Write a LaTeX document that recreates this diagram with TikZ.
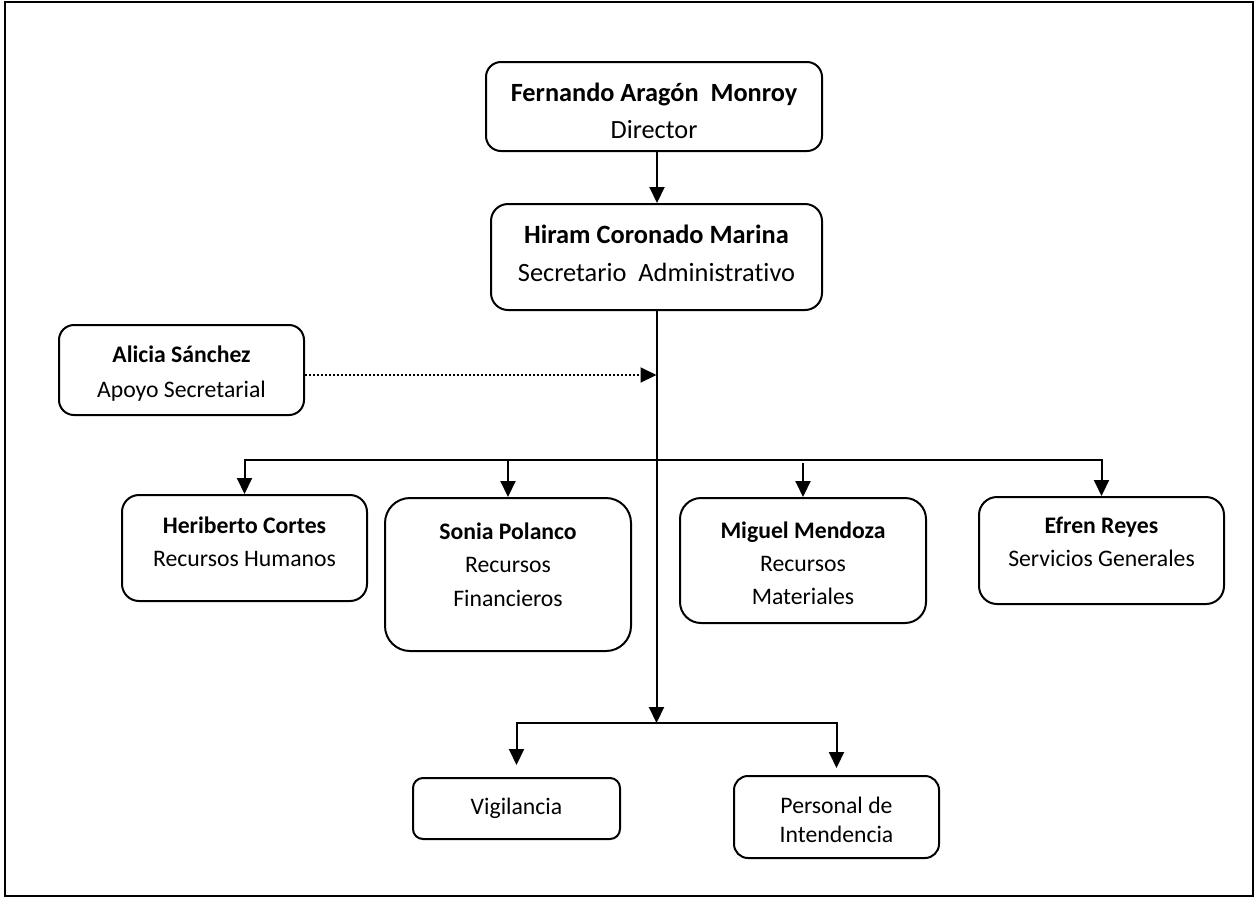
\documentclass[tikz,border=0pt]{standalone}
\usepackage{fontspec}
\setmainfont{Carlito}[Ligatures={NoCommon}]
\usetikzlibrary{arrows.meta}
\newcommand\boxlines[3]{{\fontsize{#1pt}{#2pt}\selectfont\begin{tabular}[t]{@{}c@{}}#3\end{tabular}}}
\begin{document}
\begin{tikzpicture}[x=1pt,y=-1pt,
  orgbox/.style={draw, line width=2pt, inner sep=0pt, anchor=north},
  conn/.style={line width=2pt, -{Triangle[length=16pt,width=15pt]}},
  dotconn/.style={line width=2pt, dash pattern=on 2pt off 2pt, -{Triangle[length=16pt,width=15pt]}}]
\useasboundingbox (0,0) rectangle (1255,898);
\draw[line width=2pt] (4.5,1.8) rectangle (1252.5,896);

\node[orgbox, minimum width=336pt, text height=39pt, text depth=50pt, rounded corners=15pt] (fer) at (654,61)
  {\boxlines{26.3}{37}{\textbf{Fernando Aragón~~Monroy}\\Director}};
\node[orgbox, minimum width=331pt, text height=39pt, text depth=67pt, rounded corners=17pt] (hir) at (656.5,203)
  {\boxlines{26.4}{38}{\textbf{Hiram Coronado Marina}\\Secretario~~Administrativo}};
\node[orgbox, minimum width=245pt, text height=37pt, text depth=53pt, rounded corners=15pt] (ali) at (181.5,324)
  {\boxlines{23.7}{35}{\textbf{Alicia Sánchez}\\Apoyo Secretarial}};
\node[orgbox, minimum width=245pt, text height=38pt, text depth=68pt, rounded corners=17pt] (her) at (244.5,494)
  {\boxlines{23.7}{33}{\textbf{Heriberto Cortes}\\Recursos Humanos}};
\node[orgbox, minimum width=246pt, text height=41pt, text depth=112pt, rounded corners=25pt] (son) at (508,497)
  {\boxlines{23.7}{33.5}{\textbf{Sonia Polanco}\\Recursos\\Financieros}};
\node[orgbox, minimum width=246pt, text height=40pt, text depth=85pt, rounded corners=21pt] (mig) at (803,497)
  {\boxlines{23.7}{33}{\textbf{Miguel Mendoza}\\Recursos\\Materiales}};
\node[orgbox, minimum width=245pt, text height=36pt, text depth=71pt, rounded corners=18pt] (efr) at (1101.5,496)
  {\boxlines{23.7}{33}{\textbf{Efren Reyes}\\Servicios Generales}};
\node[orgbox, minimum width=207pt, text height=36pt, text depth=25pt, rounded corners=10pt] (vig) at (516.5,777)
  {\boxlines{23.7}{33}{Vigilancia}};
\node[orgbox, minimum width=205pt, text height=37pt, text depth=45pt, rounded corners=14pt] (per) at (836.5,775)
  {\boxlines{23.7}{29}{Personal de\\Intendencia}};

\coordinate (busT) at (656.5,460);
\coordinate (busB) at (656.5,723);
\coordinate (migtop) at (mig.north |- busT);
\coordinate (dotstart) at ([yshift=-5pt]ali.east);

\draw[conn] ([xshift=3pt]fer.south) -- ([xshift=3pt]fer.south |- hir.north);
\draw[conn] (hir.south) -- (busB);
\draw[conn] (busT) -| (her.north);
\draw[conn] (busT) -| (efr.north);
\draw[conn] (son.north |- busT) -- (son.north);
\draw[conn] ([yshift=-3pt]migtop) -- (mig.north);
\draw[dotconn] (dotstart) -- (dotstart -| hir.south);
\draw[conn] (busB) -| ([yshift=12pt]vig.north);
\draw[conn] (busB) -| ([yshift=7pt]per.north);
\end{tikzpicture}
\end{document}
